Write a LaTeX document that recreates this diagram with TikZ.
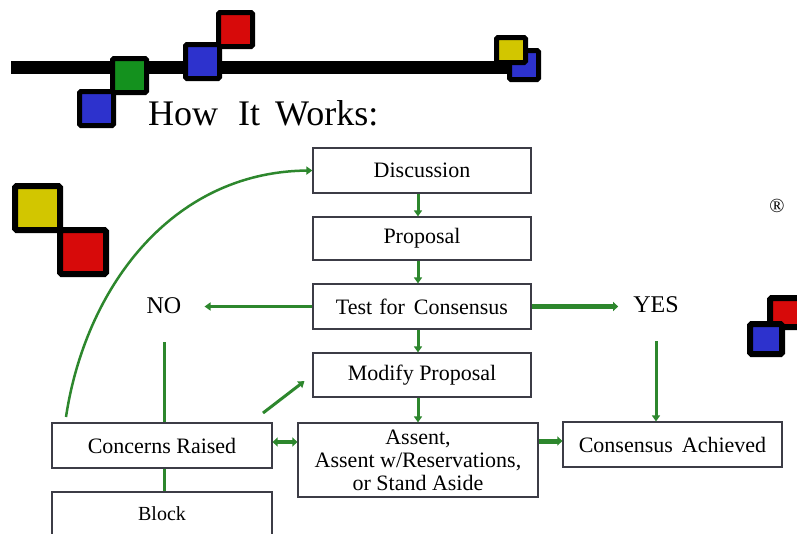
\documentclass[tikz,border=0pt]{standalone}
\usepackage{fontspec}
\setmainfont{Liberation Serif}
\usetikzlibrary{arrows.meta}
\definecolor{lg}{RGB}{45,135,45}
\definecolor{sqblue}{RGB}{45,50,205}
\definecolor{sqgreen}{RGB}{20,145,30}
\definecolor{sqred}{RGB}{215,10,10}
\definecolor{sqyellow}{RGB}{210,198,0}
\definecolor{boxline}{RGB}{60,60,70}
\tikzset{
  sq/.style={draw=black, line width=5pt, rounded corners=1.5pt},
  bigsq/.style={draw=black, line width=6pt, rounded corners=1.5pt},
  box/.style={draw=boxline, line width=1.2pt, inner sep=0pt, align=center,
              font=\fontsize{22}{23}\selectfont},
  lbl/.style={inner sep=3pt, font=\fontsize{24}{24}\selectfont},
  conn/.style={draw=lg, line width=3pt},
  arr/.style={conn, -{Triangle[length=6pt,width=8pt]}},
  thickarr/.style={draw=lg, line width=5pt, -{Triangle[length=5pt,width=9pt]}},
  dblarr/.style={draw=lg, line width=4pt, {Triangle[length=5pt,width=9pt]}-{Triangle[length=5pt,width=9pt]}}
}
\begin{document}
\begin{tikzpicture}[x=1pt,y=-1pt]
\useasboundingbox (0,0) rectangle (797,533);
\clip (0,0) rectangle (797,533);
\fill[white] (0,0) rectangle (797,533);
% top bar and squares
\fill[black] (11,61) rectangle (514,74);
\filldraw[sq, fill=sqblue] (79.5,91.5) rectangle (113.5,125.5);
\filldraw[sq, fill=sqgreen] (112.5,58.5) rectangle (146.5,92.5);
\filldraw[sq, fill=sqblue] (185.5,44.5) rectangle (219.5,78.5);
\filldraw[sq, fill=sqred] (218.5,12.5) rectangle (252.5,46.5);
\filldraw[sq, fill=sqblue] (509.5,50.5) rectangle (538.5,79.5);
\filldraw[sq, fill=sqyellow] (496.5,37.5) rectangle (525.5,62.5);
% left squares
\filldraw[bigsq, fill=sqyellow] (15,186) rectangle (60,230);
\filldraw[bigsq, fill=sqred] (60,230) rectangle (106,274);
% right squares
\filldraw[bigsq, fill=sqred] (770,298) rectangle (812,327);
\filldraw[bigsq, fill=sqblue] (750,324) rectangle (782,354);
% title
\node[anchor=base west, inner sep=0pt, font=\fontsize{36}{36}\selectfont] (title) at (148,125) {How\hspace{20pt}It\hspace{15pt}Works:};
\node[inner sep=0pt, font=\fontsize{20}{20}\selectfont] (reg) at (777,206) {®};
% boxes
\node[box, minimum width=218pt, minimum height=45pt] (disc) at (422,170.5) {Discussion};
\node[box, minimum width=218pt, minimum height=43pt] (prop) at (422,238.5) {Proposal};
\node[box, minimum width=218pt, minimum height=45pt] (test) at (422,306.5) {Test\hspace{7pt}for\hspace{9pt}Consensus};
\node[box, minimum width=218pt, minimum height=44pt] (mod) at (422,375) {Modify Proposal};
\node[box, minimum width=220pt, minimum height=45pt] (conc) at (162,445.5) {Concerns Raised};
\node[box, minimum width=220pt, minimum height=44pt, font=\fontsize{20}{20}\selectfont] (block) at (162,514) {Block};
\node[box, minimum width=240pt, minimum height=74pt] (assent) at (418,460) {Assent,\\Assent w/Reservations,\\or Stand Aside};
\node[box, minimum width=219pt, minimum height=45pt] (cons) at (672.5,444.5) {Consensus\hspace{9pt}Achieved};
% labels
\node[lbl] (no) at (164,306) {NO};
\node[lbl] (yes) at (656,305) {YES};
% connectors
\draw[arr] ([xshift=-4pt]disc.south) -- ([xshift=-4pt]prop.north);
\draw[arr] ([xshift=-4pt]prop.south) -- ([xshift=-4pt]test.north);
\draw[arr] ([xshift=-4pt]test.south) -- ([xshift=-4pt]mod.north);
\draw[arr] (mod.south -| assent.north) -- (assent.north);
\draw[arr, shorten >=20pt] (test.west) -- (test.west -| no.east);
\draw[thickarr, shorten >=12pt] (test.east) -- (test.east -| yes.west);
\draw[conn, shorten <=25pt] (no.south) -- (no.south |- conc.north);
\draw[arr, shorten <=25pt] (yes.south) -- (yes.south |- cons.north);
\draw[conn] (conc.south -| no.south) -- (block.north -| no.south);
\coordinate (c1) at (66,417);
\draw[arr, line width=2.5pt] (c1) .. controls (85,290) and (170,172) .. (disc.west);
\coordinate (d1) at (263,413);
\draw[arr, shorten >=10pt] (d1) -- (mod.west);
\path ([yshift=3.5pt]conc.east) coordinate (ce);
\draw[dblarr] (ce) -- (ce -| assent.west);
\path ([yshift=3.5pt]cons.west) coordinate (cw);
\draw[thickarr] (cw -| assent.east) -- (cw);
\end{tikzpicture}
\end{document}
